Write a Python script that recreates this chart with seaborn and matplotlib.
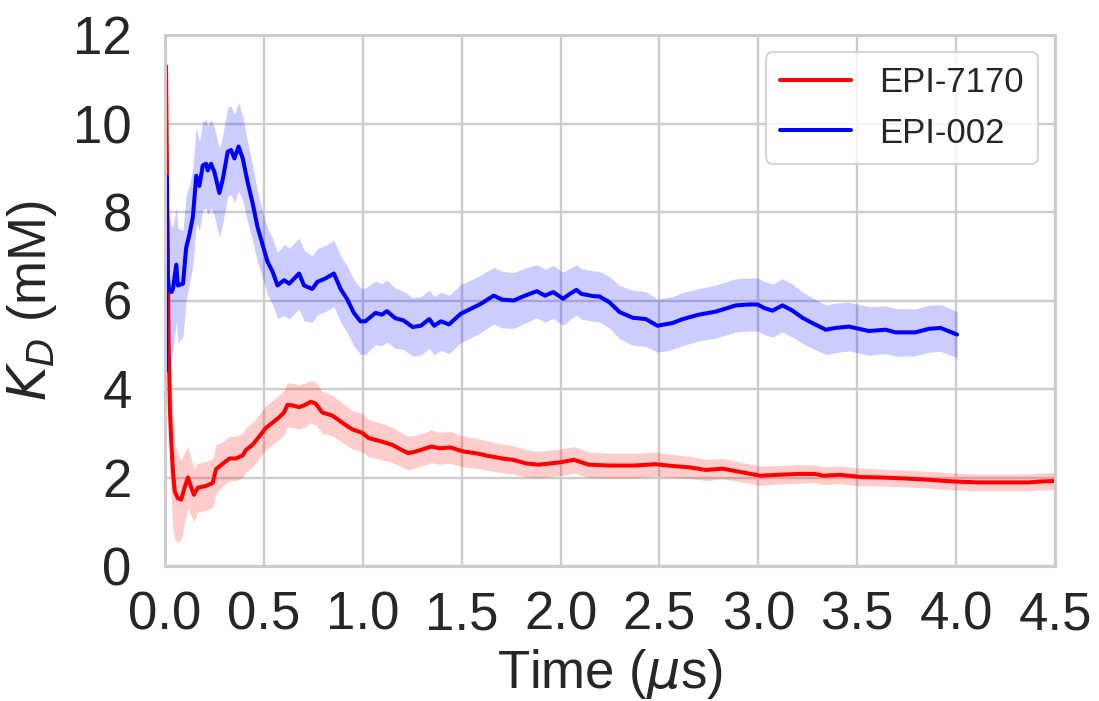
import numpy as np
import pandas as pd
import seaborn as sns
import matplotlib
matplotlib.use("Agg")
import matplotlib.pyplot as plt

# EPI-7170: running K_D estimate (mM) with uncertainty band
t_7170 = [0.005, 0.012, 0.018, 0.025, 0.032, 0.040, 0.049, 0.065, 0.082, 0.099,
          0.116, 0.133, 0.146, 0.166, 0.208, 0.242, 0.258, 0.292, 0.326, 0.359,
          0.393, 0.409, 0.443, 0.477, 0.510, 0.544, 0.577, 0.602, 0.619, 0.644,
          0.678, 0.703, 0.737, 0.762, 0.795, 0.846, 0.896, 0.946, 0.997, 1.030,
          1.097, 1.148, 1.198, 1.230, 1.270, 1.347, 1.390, 1.443, 1.506, 1.570,
          1.633, 1.718, 1.760, 1.824, 1.888, 1.994, 2.068, 2.142, 2.248, 2.375,
          2.480, 2.566, 2.650, 2.735, 2.820, 2.926, 3.010, 3.095, 3.200, 3.286,
          3.328, 3.413, 3.519, 3.625, 3.730, 3.858, 3.985, 4.112, 4.240, 4.366,
          4.430, 4.494]
kd_7170 = [11.30, 8.00, 5.10, 3.50, 2.78, 2.16, 1.69, 1.53, 1.50, 1.77,
           2.00, 1.77, 1.61, 1.77, 1.81, 1.88, 2.19, 2.31, 2.43, 2.43,
           2.50, 2.62, 2.74, 2.93, 3.12, 3.24, 3.36, 3.47, 3.64, 3.63,
           3.59, 3.63, 3.71, 3.67, 3.47, 3.40, 3.24, 3.09, 3.01, 2.89,
           2.81, 2.74, 2.62, 2.55, 2.59, 2.70, 2.66, 2.68, 2.59, 2.55,
           2.49, 2.42, 2.40, 2.32, 2.29, 2.34, 2.40, 2.29, 2.27, 2.27,
           2.30, 2.26, 2.23, 2.17, 2.20, 2.11, 2.04, 2.06, 2.08, 2.08,
           2.04, 2.06, 2.01, 2.00, 1.98, 1.95, 1.91, 1.89, 1.89, 1.89,
           1.91, 1.92]
err_7170 = [1.50, 1.60, 1.50, 1.40, 1.30, 1.30, 1.10, 1.00, 0.90, 0.80,
            0.70, 0.65, 0.60, 0.55, 0.55, 0.55, 0.55, 0.50, 0.50, 0.50,
            0.50, 0.50, 0.50, 0.50, 0.50, 0.50, 0.50, 0.50, 0.50, 0.50,
            0.50, 0.50, 0.48, 0.48, 0.47, 0.46, 0.45, 0.44, 0.43, 0.42,
            0.41, 0.40, 0.38, 0.38, 0.37, 0.37, 0.36, 0.36, 0.35, 0.34,
            0.33, 0.32, 0.32, 0.31, 0.30, 0.30, 0.30, 0.29, 0.28, 0.28,
            0.27, 0.26, 0.25, 0.24, 0.23, 0.22, 0.22, 0.21, 0.21, 0.20,
            0.20, 0.20, 0.20, 0.19, 0.19, 0.19, 0.19, 0.19, 0.19, 0.19,
            0.19, 0.19]

# EPI-002: running K_D estimate (mM) with uncertainty band
t_002 = [0.005, 0.008, 0.013, 0.020, 0.032, 0.040, 0.057, 0.065, 0.091, 0.107,
         0.124, 0.141, 0.158, 0.174, 0.191, 0.208, 0.216, 0.233, 0.250, 0.275,
         0.292, 0.317, 0.334, 0.351, 0.372, 0.393, 0.418, 0.443, 0.468, 0.493,
         0.518, 0.544, 0.569, 0.602, 0.628, 0.678, 0.703, 0.745, 0.770, 0.812,
         0.854, 0.888, 0.921, 0.955, 0.988, 1.013, 1.064, 1.097, 1.122, 1.164,
         1.206, 1.252, 1.294, 1.336, 1.361, 1.395, 1.436, 1.495, 1.545, 1.595,
         1.662, 1.704, 1.763, 1.821, 1.880, 1.921, 1.963, 2.013, 2.047, 2.080,
         2.105, 2.164, 2.197, 2.247, 2.298, 2.365, 2.431, 2.490, 2.565, 2.618,
         2.699, 2.786, 2.887, 2.954, 2.996, 3.030, 3.072, 3.122, 3.173, 3.223,
         3.273, 3.341, 3.391, 3.458, 3.559, 3.643, 3.694, 3.795, 3.862, 3.921,
         4.005]
kd_002 = [4.40, 8.80, 6.60, 6.25, 6.19, 6.26, 6.81, 6.34, 6.38, 7.19,
          7.50, 7.89, 8.82, 8.59, 9.05, 9.09, 8.94, 9.09, 8.90, 8.43,
          8.74, 9.36, 9.40, 9.21, 9.48, 9.21, 8.67, 8.20, 7.66, 7.27,
          6.88, 6.65, 6.34, 6.46, 6.38, 6.61, 6.34, 6.26, 6.42, 6.50,
          6.61, 6.26, 6.03, 5.72, 5.53, 5.53, 5.72, 5.68, 5.76, 5.60,
          5.55, 5.40, 5.43, 5.58, 5.43, 5.53, 5.46, 5.70, 5.81, 5.92,
          6.11, 6.02, 6.00, 6.11, 6.21, 6.11, 6.19, 6.04, 6.15, 6.24,
          6.15, 6.10, 6.09, 5.96, 5.74, 5.61, 5.58, 5.43, 5.49, 5.58,
          5.68, 5.75, 5.89, 5.91, 5.91, 5.83, 5.77, 5.89, 5.77, 5.61,
          5.49, 5.34, 5.38, 5.41, 5.31, 5.34, 5.28, 5.28, 5.36, 5.38,
          5.23]
err_002 = [1.00, 2.90, 2.00, 1.70, 1.50, 1.40, 1.30, 1.30, 1.20, 1.20,
           1.10, 1.10, 1.10, 1.00, 1.00, 1.00, 1.00, 1.00, 1.00, 1.00,
           1.00, 1.00, 1.00, 1.00, 1.00, 0.95, 0.90, 0.85, 0.80, 0.75,
           0.75, 0.75, 0.75, 0.80, 0.80, 0.80, 0.80, 0.75, 0.75, 0.75,
           0.75, 0.75, 0.75, 0.75, 0.75, 0.75, 0.72, 0.70, 0.70, 0.68,
           0.66, 0.66, 0.66, 0.66, 0.66, 0.66, 0.66, 0.66, 0.65, 0.65,
           0.64, 0.64, 0.63, 0.62, 0.60, 0.60, 0.60, 0.60, 0.58, 0.57,
           0.57, 0.57, 0.57, 0.58, 0.60, 0.62, 0.62, 0.60, 0.60, 0.60,
           0.59, 0.60, 0.60, 0.60, 0.60, 0.60, 0.60, 0.60, 0.60, 0.58,
           0.57, 0.56, 0.56, 0.55, 0.55, 0.54, 0.54, 0.53, 0.53, 0.53,
           0.52]

labels = ["EPI-7170", "EPI-002"]
colors = ["red", "blue"]
x_ticks = [0.0, 0.5, 1.0, 1.5, 2.0, 2.5, 3.0, 3.5, 4.0, 4.5]
y_ticks = [0, 2, 4, 6, 8, 10, 12]

sns.set_theme(style="whitegrid")
plt.rcParams["font.family"] = ["Liberation Sans", "DejaVu Sans"]
plt.rcParams["axes.edgecolor"] = "0.8"
plt.rcParams["grid.color"] = "0.8"

df = pd.concat([
    pd.DataFrame({"time": t_7170, "kd": kd_7170, "err": err_7170, "ligand": labels[0]}),
    pd.DataFrame({"time": t_002, "kd": kd_002, "err": err_002, "ligand": labels[1]}),
], ignore_index=True)

fig, ax = plt.subplots(figsize=(10.99, 7.01), dpi=100)
fig.subplots_adjust(left=165 / 1099, right=1055 / 1099, bottom=1 - 566 / 701, top=1 - 35 / 701)

palette = dict(zip(labels, colors))
for name in labels:
    sub = df[df["ligand"] == name]
    ax.fill_between(sub["time"], sub["kd"] - sub["err"], sub["kd"] + sub["err"],
                    color=palette[name], alpha=0.2, linewidth=0)

sns.lineplot(data=df, x="time", y="kd", hue="ligand", palette=palette,
             hue_order=labels, linewidth=2.9, ax=ax, estimator=None, sort=False)

ax.set_xlim(0, 4.5)
ax.set_ylim(0, 12)
ax.set_xticks(x_ticks)
ax.set_xticklabels([f"{v:.1f}" for v in x_ticks])
ax.set_yticks(y_ticks)
ax.set_yticklabels([str(v) for v in y_ticks])
ax.tick_params(axis="x", labelsize=38, pad=12, colors="0.15")
ax.tick_params(axis="y", labelsize=38, pad=18, colors="0.15")
ax.grid(True, linewidth=1.7, color="0.8")
for sp in ax.spines.values():
    sp.set_linewidth(2.2)
    sp.set_color("0.8")

ax.set_xlabel(r"Time ($\mu$s)", fontsize=38, color="0.15", labelpad=4)
ax.set_ylabel(r"$K_D$ (mM)", fontsize=38, color="0.15", labelpad=10)

leg = ax.legend(loc="upper right", fontsize=25, frameon=True, handlelength=2.05)
leg.get_frame().set_edgecolor("0.8")
leg.get_frame().set_linewidth(1.5)
for h in leg.get_lines():
    h.set_linewidth(2.9)

fig.savefig("out.png", dpi=100)
